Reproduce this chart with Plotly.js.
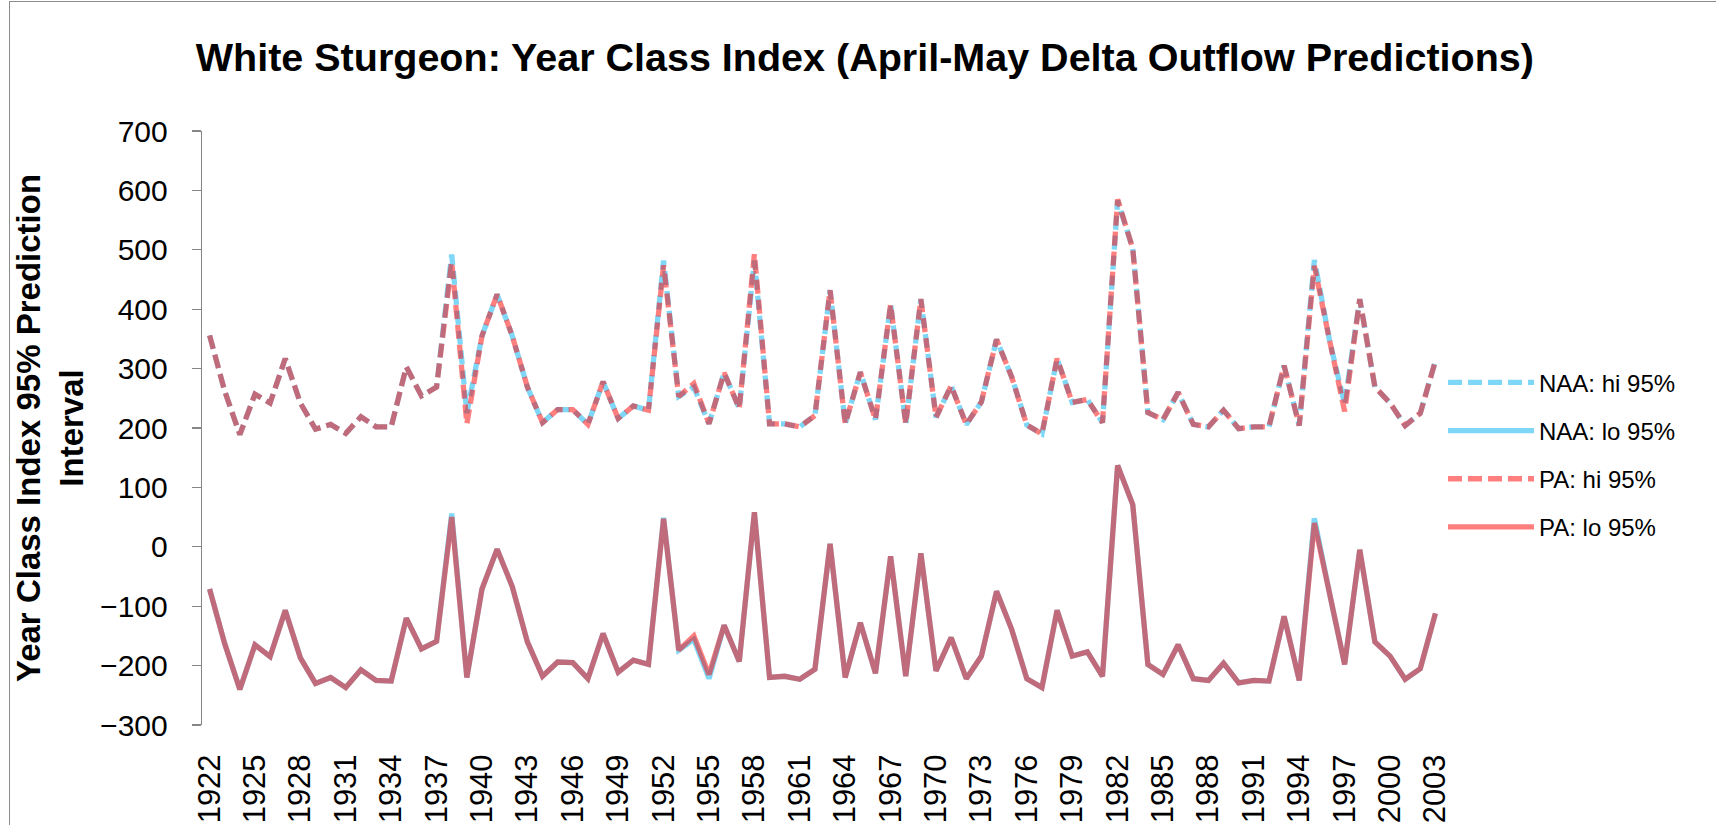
<!DOCTYPE html>
<html>
<head>
<meta charset="utf-8">
<script src="https://cdn.plot.ly/plotly-3.0.1.min.js"></script>
<style>
  html, body { margin: 0; padding: 0; background: #ffffff; }
  #wrap { position: relative; width: 1716px; height: 825px; overflow: hidden; }
  #chart { width: 1716px; height: 825px; }
  #frame { position: absolute; left: 9px; top: 1px; width: 1800px; height: 900px;
           border: 1.3px solid #8c8c8c; pointer-events: none; box-sizing: border-box; }
</style>
</head>
<body>
<div id="wrap"><div id="chart"></div><div id="frame"></div></div>
<script>
// ---- data ----
const years = [1922,1923,1924,1925,1926,1927,1928,1929,1930,1931,1932,1933,1934,1935,1936,1937,1938,1939,1940,1941,
  1942,1943,1944,1945,1946,1947,1948,1949,1950,1951,1952,1953,1954,1955,1956,1957,1958,1959,1960,1961,
  1962,1963,1964,1965,1966,1967,1968,1969,1970,1971,1972,1973,1974,1975,1976,1977,1978,1979,1980,1981,
  1982,1983,1984,1985,1986,1987,1988,1989,1990,1991,1992,1993,1994,1995,1996,1997,1998,1999,2000,2001,
  2002,2003];

const naaHi = [356,262,189,257,242,317,242,198,206,191,219,202,202,303,254,269,492,225,355,425,
  355,269,209,231,231,206,278,216,237,230,482,253,269,207,293,233,482,207,207,202,
  221,432,207,294,214,408,207,417,218,271,206,244,349,286,205,190,317,243,248,209,
  583,502,226,214,260,206,202,230,199,202,202,305,204,483,348,240,417,269,242,204,
  225,313];

const naaLo = [-71,-163,-240,-165,-185,-107,-187,-230,-220,-237,-207,-225,-226,-120,-172,-159,56,-220,-71,-4,
  -67,-160,-218,-194,-195,-222,-146,-211,-191,-198,49,-174,-156,-222,-132,-193,58,-220,-218,-223,
  -206,5,-220,-128,-213,-16,-218,-11,-209,-153,-222,-184,-75,-139,-222,-237,-107,-184,-177,-218,
  137,71,-198,-215,-165,-222,-225,-196,-229,-225,-226,-117,-225,48,-78,-198,-5,-160,-184,-223,
  -205,-112];

const paHi = [356,262,189,257,242,317,242,198,206,191,219,202,202,303,254,269,480,207,355,425,
  355,269,209,231,231,206,278,216,237,230,474,253,275,207,293,233,493,207,207,202,
  221,432,207,294,214,408,207,417,218,271,206,244,349,286,205,190,317,243,248,209,
  585,502,226,214,260,206,202,230,199,202,202,305,204,473,348,228,417,269,242,204,
  225,313];

const paLo = [-71,-163,-240,-165,-185,-107,-187,-230,-220,-237,-207,-225,-226,-120,-172,-159,50,-220,-71,-4,
  -67,-160,-218,-194,-195,-222,-146,-211,-191,-198,47,-174,-150,-215,-132,-193,58,-220,-218,-223,
  -206,5,-220,-128,-213,-16,-218,-11,-209,-153,-222,-184,-75,-139,-222,-237,-107,-184,-177,-218,
  137,71,-198,-215,-165,-222,-225,-196,-229,-225,-226,-117,-225,40,-78,-198,-5,-160,-184,-223,
  -205,-112];

const seriesNames = ['NAA: hi 95%', 'NAA: lo 95%', 'PA: hi 95%', 'PA: lo 95%'];
const xTickLabels = ['1922','1925','1928','1931','1934','1937','1940','1943','1946','1949','1952','1955',
  '1958','1961','1964','1967','1970','1973','1976','1979','1982','1985','1988','1991','1994','1997','2000','2003'];
const yTickValues = [-300,-200,-100,0,100,200,300,400,500,600,700];

// ---- styling ----
const FONT = 'Liberation Sans, Arial, sans-serif';
const naaColor = 'rgba(0,176,240,0.5)';
const paColor = 'rgba(255,0,0,0.5)';
const W = 5.3;
const DASH = '14px,6px';
const cats = years.map(String);

function tr(y, name, color, dash, grp) {
  return {
    type: 'scatter', mode: 'lines', x: cats, y: y, name: name,
    legendgroup: grp,
    line: { color: color, width: W, dash: dash, shape: 'linear' },
    hoverinfo: 'x+y+name'
  };
}

const data = [
  tr(naaHi, seriesNames[0], naaColor, DASH, 'g1'),
  tr(naaLo, seriesNames[1], naaColor, 'solid', 'g2'),
  tr(paHi, seriesNames[2], paColor, DASH, 'g3'),
  tr(paLo, seriesNames[3], paColor, 'solid', 'g4')
];

const axisGrey = '#868686';

const layout = {
  width: 1716, height: 825,
  paper_bgcolor: '#ffffff', plot_bgcolor: '#ffffff',
  margin: { l: 202, r: 273, t: 131, b: 100, pad: 0 },
  font: { family: FONT, color: '#000000' },
  title: {
    text: 'White Sturgeon: Year Class Index (April-May Delta Outflow Predictions)',
    font: { family: FONT, size: 39.5, weight: 'bold', color: '#000000' },
    xref: 'container', x: 0.504, xanchor: 'center',
    yref: 'container', y: 0.931, yanchor: 'middle'
  },
  showlegend: true,
  legend: {
    x: 1.0, xanchor: 'left', y: 0.455, yanchor: 'middle',
    font: { family: FONT, size: 24, color: '#000000' },
    itemwidth: 86, tracegroupgap: 14, traceorder: 'grouped',
    bgcolor: 'rgba(0,0,0,0)', borderwidth: 0
  },
  xaxis: {
    type: 'category', range: [-0.5, 81.5],
    tickmode: 'array', tickvals: xTickLabels, ticktext: xTickLabels,
    tickangle: -90, tickfont: { family: FONT, size: 31, color: '#000000' },
    ticks: 'outside', ticklen: 16, tickcolor: 'rgba(0,0,0,0)',
    showline: false, showgrid: false, zeroline: false, automargin: false
  },
  xaxis2: {
    overlaying: 'x', anchor: 'free', position: 0.3, side: 'bottom',
    type: 'linear', range: [-0.5, 81.5], tick0: -0.5, dtick: 1,
    ticks: 'outside', ticklen: 8, tickwidth: 1.3, tickcolor: axisGrey,
    showline: true, linecolor: axisGrey, linewidth: 1.3,
    showticklabels: false, showgrid: false, zeroline: false
  },
  yaxis: {
    range: [-300, 700], tickmode: 'array', tickvals: yTickValues,
    ticks: 'outside', ticklen: 9, tickwidth: 1.3, tickcolor: axisGrey,
    showline: true, linecolor: axisGrey, linewidth: 1.3,
    showgrid: false, zeroline: false, automargin: false,
    tickfont: { family: FONT, size: 30, color: '#000000' },
    ticklabelstandoff: 18,
    title: {
      text: 'Year Class Index 95% Prediction<br>Interval',
      font: { family: FONT, size: 33, weight: 'bold', color: '#000000' },
      standoff: 6
    }
  }
};

Plotly.newPlot('chart', data, layout, { displayModeBar: false, staticPlot: true });
</script>
</body>
</html>
